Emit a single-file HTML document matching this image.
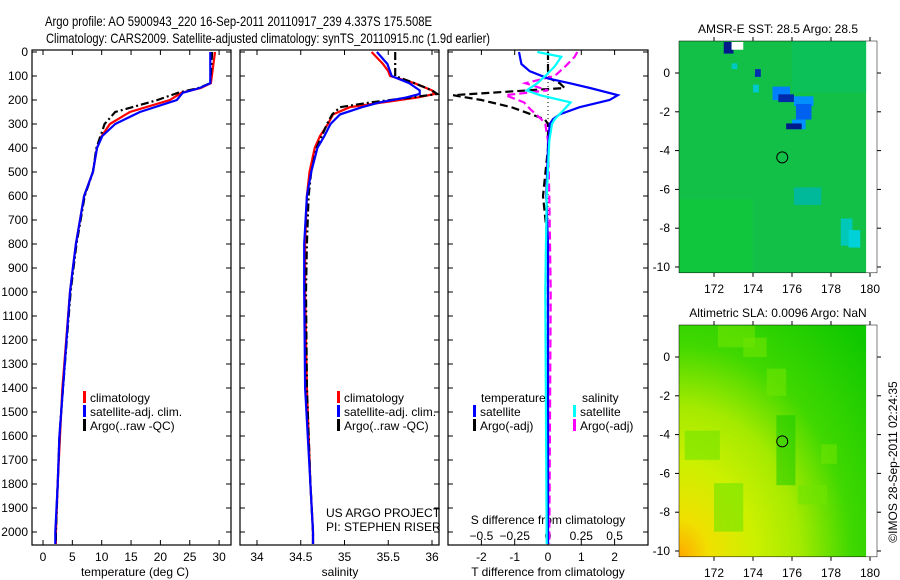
<!DOCTYPE html>
<html><head><meta charset="utf-8"><style>
html,body{margin:0;padding:0;background:#fff}
svg{display:block}
text{font-family:"Liberation Sans",sans-serif;font-size:12px;fill:#000}
</style></head><body>
<svg id="s" width="900" height="580" viewBox="0 0 900 580">
<defs>
<radialGradient id="slaG" cx="0" cy="1" r="1.35" fx="0" fy="1">
<stop offset="0" stop-color="#ffa800"/><stop offset="0.12" stop-color="#f0e000"/><stop offset="0.3" stop-color="#ccf000"/><stop offset="0.48" stop-color="#a4ea00"/><stop offset="0.68" stop-color="#40d800"/><stop offset="1" stop-color="#10c800"/>
</radialGradient>
</defs>
<text x="45" y="26" textLength="387" lengthAdjust="spacingAndGlyphs" style="font-size:14px">Argo profile: AO 5900943_220 16-Sep-2011 20110917_239 4.337S 175.508E</text>
<text x="46" y="43" textLength="444" lengthAdjust="spacingAndGlyphs" style="font-size:14px">Climatology: CARS2009. Satellite-adjusted climatology: synTS_20110915.nc (1.9d earlier)</text>
<g id="g"></g>
</svg>
<script>
// ---- data ----
const tDepth=[0,130,150,170,200,250,300,350,400,500,600,700,800,900,1000,1400,1600,1800,2000,2050];
const tClim=[29.3,28.6,26.9,23.6,21.6,14.8,11.4,10,9.2,8.5,7,6.3,5.6,5.1,4.6,3.3,2.9,2.5,2.2,2.2];
const tSat=[28.5,28.5,26.7,23.8,22.8,16.5,12.3,10.1,9.2,8.5,7,6.3,5.6,5.1,4.6,3.4,2.8,2.5,2.1,2.1];
const tArgo=[28.8,28.5,26.5,23.0,19.5,12.3,10.5,9.8,9.1,8.5,7.1,6.4,5.7,5.2,4.7,3.4,2.8,2.5,2.2,2.2];
const sDepth=[0,50,80,100,130,160,175,190,210,230,260,300,350,400,500,600,800,1000,1400,1800,2000,2050];
const sClim=[35.31,35.44,35.5,35.52,35.8,36.0,36.03,35.83,35.44,35.06,34.87,34.81,34.72,34.66,34.6,34.57,34.55,34.55,34.57,34.61,34.64,34.64];
const sSat=[35.37,35.49,35.52,35.54,35.74,35.86,35.86,35.7,35.4,35.2,34.95,34.84,34.77,34.69,34.62,34.57,34.54,34.54,34.55,34.61,34.64,34.64];
const sArgo=[35.58,35.58,35.58,35.58,35.8,36.0,36.06,35.75,35.3,34.95,34.86,34.8,34.74,34.68,34.62,34.59,34.57,34.56,34.57,34.61,34.64,34.64];
const dDepth=[0,50,80,110,130,150,180,200,230,260,280,300,400,600,800,1200,2050];
const dTsat=[-0.87,-0.8,-0.55,0,0.65,1.26,2.1,1.85,0.95,0.35,0.15,0.05,0,-0.05,0,0,0];
const dTargo=[0,0,0,0.05,0.35,0.5,-2.85,-2.0,-1.1,-0.5,-0.1,0,0,-0.15,0,0,0];
const dDepthS=[0,20,60,100,130,160,180,210,240,280,300,370,600,1000,2050];
const dSsat=[-0.08,0.1,0.05,-0.02,-0.08,-0.16,-0.06,0.17,0.12,0.05,0.03,0.01,-0.01,-0.02,-0.01];
const dSargo=[0.22,0.2,0.13,0.05,-0.17,0,-0.32,-0.18,-0.13,-0.05,-0.02,0,0.01,0.02,0.01];
const depthTicks=[0,100,200,300,400,500,600,700,800,900,1000,1100,1200,1300,1400,1500,1600,1700,1800,1900,2000];
const tTicks=[0,5,10,15,20,25,30];
const sTicks=[34,34.5,35,35.5,36];
const sTickLabels=["34","34.5","35","35.5","36"];
const dTTicks=[-2,-1,0,1,2];
const dSTicks=[-0.5,-0.25,0,0.25,0.5];
const lonTicks=[172,174,176,178,180];
const latTicks=[0,-2,-4,-6,-8,-10];
// SST anomaly patches
const sstLon=[172.5,172.9,174.1,175.0,175.3,176.1,176.2,176.0,175.7,176.6,176.9,178.5,178.9,176.1,172.9,174.0];
const sstLat=[1.6,1.6,0.2,-0.7,-1.1,-1.2,-1.6,-2.4,-2.6,-5.9,-5.9,-7.5,-8.1,-5.9,0.5,-0.6];
const sstW=[0.5,0.6,0.3,0.9,0.8,1.0,0.8,0.7,0.8,0.6,0.3,0.6,0.6,1.4,0.3,0.3];
const sstH=[0.6,0.4,0.4,0.7,0.4,0.5,0.8,0.5,0.3,0.6,0.6,1.4,0.9,0.9,0.3,0.4];
const sstC=["#001a8c","#ffffff","#0030b0","#0080ff","#002aa8","#0090ff","#0060f0","#0090ff","#001a8c","#00a8e0","#0080ff","#00c8b8","#00d0d8","#00b89a","#00c8c0","#00c8d0"];
// SLA lighter patches
const slaLon=[172.2,174.7,170.5,172.0,176.3,177.5,173.5];
const slaLat=[1.6,-0.6,-3.8,-6.5,-6.6,-4.5,1.0];
const slaW=[1.9,1.0,1.8,1.5,1.5,0.8,1.2];
const slaH=[1.1,1.4,1.5,2.5,1.0,1.0,1.0];

const NS='http://www.w3.org/2000/svg';
const G=document.getElementById('g');
function mk(tag,attrs,parent){const e=document.createElementNS(NS,tag);for(const k in attrs)e.setAttribute(k,attrs[k]);(parent||G).appendChild(e);return e;}
function txt(x,y,s,anchor,parent,size){const e=mk('text',{x:x,y:y,'text-anchor':anchor||'start'},parent);if(size)e.style.fontSize=size+'px';e.textContent=s;return e;}
const yD=d=>52+d*0.24;
const TOP=50,BOT=545;
const panels=[{x0:32,x1:231},{x0:240,x1:439},{x0:448,x1:648}];
const xT=v=>43+v*5.87, xS=v=>257+(v-34)*87.5, xDT=v=>548+v*33.3, xDS=v=>548+v*133.2;

panels.forEach((p,i)=>{
 const r=mk('rect',{x:p.x0,y:TOP,width:p.x1-p.x0,height:BOT-TOP,fill:'none',stroke:'#000','stroke-width':1.2});
 
 
 depthTicks.forEach(d=>{
  mk('line',{x1:p.x0,x2:p.x0+5,y1:yD(d),y2:yD(d),stroke:'#000'});
  mk('line',{x1:p.x1,x2:p.x1-5,y1:yD(d),y2:yD(d),stroke:'#000'});
 });
});
depthTicks.forEach(d=>{const t=txt(28,yD(d)+4,String(d),'end');});
function xticks(vals,fx,labels,y0,y1,ly){vals.forEach((v,i)=>{mk('line',{x1:fx(v),x2:fx(v),y1:y0,y2:y1,stroke:'#000'});if(labels){const t=txt(fx(v),ly,labels[i],'middle');}});}
xticks(tTicks,xT,tTicks.map(String),BOT,BOT-5,561);xticks(tTicks,xT,null,TOP,TOP+5);
xticks(sTicks,xS,sTickLabels,BOT,BOT-5,561);xticks(sTicks,xS,null,TOP,TOP+5);
xticks(dTTicks,xDT,dTTicks.map(String),BOT,BOT-5,561);
xticks(dSTicks,xDS,null,TOP,TOP+5);
[['temperature (deg C)',135],['salinity',340],['T difference from climatology',548]].forEach(a=>{const t=txt(a[1],576,a[0],'middle');});
const sl=txt(548,524,'S difference from climatology','middle');
dSTicks.forEach(v=>{const t=txt(xDS(v),540,String(v).replace('-','−'),'middle');});
mk('line',{x1:548,x2:548,y1:TOP,y2:BOT,stroke:'#000','stroke-dasharray':'1,3'});

function line(depths,vals,fx,color,dash,name,w){
 const pts=depths.map((d,i)=>fx(vals[i]).toFixed(1)+','+yD(d).toFixed(1)).join(' ');
 const e=mk('polyline',{points:pts,fill:'none',stroke:color,'stroke-width':w||2.2});
 if(dash)e.setAttribute('stroke-dasharray',dash);
 
 
}
line(tDepth,tClim,xT,'#ff0000',null,'temp-climatology-line');
line(tDepth,tArgo,xT,'#000',"8,3,2,3",'temp-argo-line');
line(tDepth,tSat,xT,'#0000ff',null,'temp-satellite-line');
line(sDepth,sClim,xS,'#ff0000',null,'sal-climatology-line');
line(sDepth,sArgo,xS,'#000',"8,3,2,3",'sal-argo-line');
line(sDepth,sSat,xS,'#0000ff',null,'sal-satellite-line');
line(dDepth,dTargo,xDT,'#000',"8,4",'tdiff-argo-line');
line(dDepthS,dSargo,xDS,'#ff00ff',"8,4",'sdiff-argo-line');
line(dDepth,dTsat,xDT,'#0000ff',null,'tdiff-satellite-line');
line(dDepthS,dSsat,xDS,'#00ffff',null,'sdiff-satellite-line');

function legend(x,y,color,label,name){
 const g=mk('g',{});
 mk('rect',{x:x,y:y-11,width:3,height:12,fill:color},g);txt(x+7,y,label,'start',g);
}
legend(83,402,'#ff0000','climatology','legend-climatology');
legend(83,416,'#0000ff','satellite-adj. clim.','legend-satellite-adj');
legend(83,430,'#000','Argo(..raw -QC)','legend-argo');
legend(337,402,'#ff0000','climatology','legend-climatology-2');
legend(337,416,'#0000ff','satellite-adj. clim.','legend-satellite-adj-2');
legend(337,430,'#000','Argo(..raw -QC)','legend-argo-2');
txt(481,402,'temperature');txt(582,402,'salinity');
legend(473,416,'#0000ff','satellite','legend-t-satellite');
legend(473,430,'#000','Argo(-adj)','legend-t-argo');
legend(573,416,'#00ffff','satellite','legend-s-satellite');
legend(573,430,'#ff00ff','Argo(-adj)','legend-s-argo');
txt(326,517,'US ARGO PROJECT');txt(326,531,'PI: STEPHEN RISER');

// ---- maps ----
const lonX=l=>714+(l-172)*19.5;
function map(top,lat0y,title,kind){
 const gy=v=>lat0y-v*19.4;
 const g=mk('g',{});
 const bot=gy(-10.3);
 mk('rect',{x:679,y:top,width:198,height:bot-top,fill:'#fff'},g);
 if(kind==='sst'){
  mk('rect',{x:679,y:top,width:lonX(179.8)-679,height:bot-top,fill:'#12c048'},g);
  mk('rect',{x:679,y:gy(-6.5),width:lonX(174)-679,height:bot-gy(-6.5),fill:'#10c63c'},g);
  mk('rect',{x:lonX(176),y:top,width:lonX(179.8)-lonX(176),height:gy(-1)-top,fill:'#0cc258'},g);
  sstLon.forEach((l,i)=>{const c=mk('rect',{x:lonX(sstLon[i]),y:gy(sstLat[i]),width:sstW[i]*19.5,height:sstH[i]*19.4,fill:sstC[i]},g);});
 } else {
  mk('rect',{x:679,y:top,width:lonX(179.8)-679,height:bot-top,fill:'url(#slaG)'},g);
  slaLon.forEach((l,i)=>{const c=mk('rect',{x:lonX(slaLon[i]),y:gy(slaLat[i]),width:slaW[i]*19.5,height:slaH[i]*19.4,fill:'#70e400',opacity:0.6},g);});
  mk('rect',{x:lonX(175.2),y:gy(-3),width:19,height:70,fill:'#10c800',opacity:0.5},g);
 }
 mk('circle',{cx:lonX(175.5),cy:gy(-4.35),r:5.5,fill:'none',stroke:'#000','stroke-width':1},g);
 mk('rect',{x:679,y:top,width:198,height:bot-top,fill:'none',stroke:'#000','stroke-width':0.5},g);
 lonTicks.forEach(l=>{mk('line',{x1:lonX(l),x2:lonX(l),y1:top,y2:top-4,stroke:'#000'},g);mk('line',{x1:lonX(l),x2:lonX(l),y1:bot,y2:bot+4,stroke:'#000'},g);txt(lonX(l),bot+20,String(l),'middle',g);});
 latTicks.forEach(v=>{mk('line',{x1:679,x2:675,y1:gy(v),y2:gy(v),stroke:'#000'},g);mk('line',{x1:877,x2:881,y1:gy(v),y2:gy(v),stroke:'#000'},g);txt(670,gy(v)+4,String(v),'end',g);});
 txt(778,top-8,title,'middle',g);
}
map(41,73,'AMSR-E SST: 28.5 Argo: 28.5','sst');
map(325,357,'Altimetric SLA: 0.0096 Argo: NaN','sla');
const c=txt(0,0,'©IMOS 28-Sep-2011 02:24:35','middle');
c.setAttribute('transform','translate(897,462) rotate(-90)');


</script>
</body></html>
